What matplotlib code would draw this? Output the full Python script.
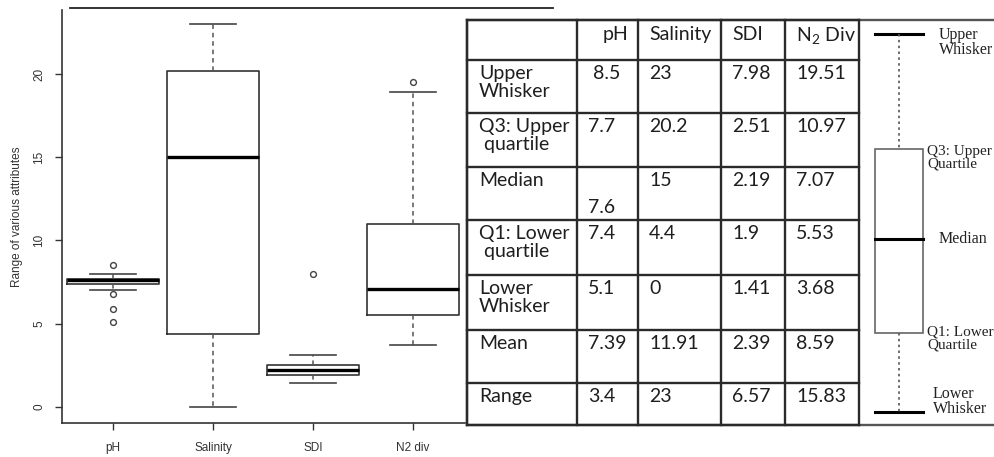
import matplotlib
matplotlib.use("Agg")
import matplotlib.pyplot as plt
from matplotlib.lines import Line2D
from matplotlib.patches import Rectangle

# box plot summary for each attribute
attrs = ["pH", "Salinity", "SDI", "N2 div"]
q1 = [7.4, 4.4, 1.9, 5.53]
medians = [7.6, 15, 2.19, 7.07]
q3 = [7.7, 20.2, 2.51, 10.97]
whisker_lo = [7.0, 0, 1.41, 3.68]
whisker_hi = [7.95, 23, 3.1, 18.9]
outliers = [[8.5, 6.8, 5.9, 5.1], [], [7.98], [19.51]]
means = [7.39, 11.91, 2.39, 8.59]

table_cols = ["pH", "Salinity", "SDI", r"N$_\mathregular{2}$ Div"]
row_names = ["Upper\nWhisker", "Q3: Upper\n quartile", "Median",
             "Q1: Lower\n quartile", "Lower\nWhisker", "Mean", "Range"]

# table rows: extremes include the outliers
upper = [max([h] + f) for h, f in zip(whisker_hi, outliers)]
lower = [min([l] + f) for l, f in zip(whisker_lo, outliers)]
ranges = [round(u - l, 2) for u, l in zip(upper, lower)]
rows = [upper, q3, medians, q1, lower, means, ranges]

W, H = 995, 457
fig = plt.figure(figsize=(W / 100, H / 100), dpi=100)
fig.patch.set_facecolor("white")

# ---- left: R-style box plot ----
ax = fig.add_axes([62 / W, (H - 423) / H, (465 - 62) / W, (423 - 10) / H])
stats = []
for i in range(len(attrs)):
    stats.append(dict(q1=q1[i], med=medians[i], q3=q3[i],
                      whislo=whisker_lo[i], whishi=whisker_hi[i],
                      fliers=outliers[i], label=attrs[i]))
ax.bxp(stats, positions=[1, 2, 3, 4], widths=0.92, capwidths=0.46,
       boxprops=dict(color="#333333", lw=1.2),
       medianprops=dict(color="black", lw=2.4, solid_capstyle="butt"),
       whiskerprops=dict(color="#555555", lw=1.1, ls=(0, (3, 2.5))),
       capprops=dict(color="#444444", lw=1.2),
       flierprops=dict(marker="o", mfc="none", mec="#444444", ms=4.2, mew=1))
ax.set_xlim(0.49, 4.52)
ax.set_ylim(-0.98, 23.85)
ax.set_yticks([0, 5, 10, 15, 20])
for s in ["top", "right"]:
    ax.spines[s].set_visible(False)
for s in ["left", "bottom"]:
    ax.spines[s].set_color("#333333")
    ax.spines[s].set_linewidth(1.2)
ax.tick_params(axis="both", length=5, width=1, color="#333333",
               labelsize=8.5, labelcolor="#333333")
ax.tick_params(axis="y", labelrotation=90, pad=7)
ax.tick_params(axis="x", pad=9)
for lab in ax.get_yticklabels():
    lab.set_va("center")
for lab in ax.get_xticklabels() + ax.get_yticklabels():
    lab.set_family("Liberation Sans")
ax.set_ylabel("Range of various attributes", fontsize=8.5, color="#333333",
              family="Liberation Sans")
ax.yaxis.set_label_coords(-39 / 403, 0.5)

# ---- overlay in pixel coordinates for the table and key ----
ov = fig.add_axes([0, 0, 1, 1], zorder=5)
ov.set_xlim(0, W)
ov.set_ylim(H, 0)
ov.axis("off")
ov.patch.set_alpha(0)

ov.add_line(Line2D([70, 553], [8, 8], color="#222222", lw=1.3))

col_x = [467, 577, 638, 721, 785, 859]
row_y = [20, 60, 113, 167, 220, 275, 330, 383, 425]
lc = "#2a2a2a"
ov.add_patch(Rectangle((col_x[0], row_y[0]), W + 10 - col_x[0],
                       row_y[-1] - row_y[0], fc="white", ec="#555555", lw=1.7))
for x in col_x:
    ov.add_line(Line2D([x, x], [row_y[0], row_y[-1]], color=lc, lw=1.7))
for y in row_y:
    ov.add_line(Line2D([col_x[0], col_x[-1]], [y, y], color=lc, lw=1.7))

tfont = dict(family="Lato", fontsize=14, color="#1e1e1e", va="top",
             linespacing=1.08)
for j, name in enumerate(table_cols):
    if j == 0:
        ov.text(col_x[2] - 10, row_y[0] + 6, name, ha="right", **tfont)
    else:
        ov.text(col_x[j + 1] + 11, row_y[0] + 6, name, ha="left", **tfont)

nudge = {(0, 0): (5, 0), (2, 0): (0, 27)}
for i, name in enumerate(row_names):
    top = row_y[i + 1]
    ov.text(col_x[0] + 12, top + 5, name, ha="left", **tfont)
    for j, v in enumerate(rows[i]):
        dx, dy = nudge.get((i, j), (0, 0))
        ov.text(col_x[j + 1] + 11 + dx, top + 5 + dy, f"{v:g}", ha="left",
                **tfont)

# ---- right: key to the box parts ----
bx0, bx1, bxc = 875, 923, 899
ov.add_line(Line2D([bx0, bx1], [34, 34], color="black", lw=2.2))
ov.add_line(Line2D([bx0, bx1], [412, 412], color="black", lw=2.2))
ov.add_line(Line2D([bxc, bxc], [34, 149], color="#555555", lw=1.2,
                   ls=(0, (1.5, 2))))
ov.add_line(Line2D([bxc, bxc], [333, 412], color="#555555", lw=1.2,
                   ls=(0, (1.5, 2))))
ov.add_patch(Rectangle((bx0, 149), bx1 - bx0, 333 - 149, fc="white",
                       ec="#666666", lw=1.2))
ov.add_line(Line2D([bx0, bx1], [239, 239], color="black", lw=2.2))

kfont = dict(family="Liberation Serif", fontsize=11.5, color="#222222",
             ha="left", linespacing=0.95)
ov.text(939, 27, "Upper\nWhisker", va="top", **kfont)
ov.text(927, 145, "Q3: Upper\nQuartile", va="top",
        **{**kfont, "fontsize": 11})
ov.text(939, 239, "Median", va="center", **kfont)
ov.text(927, 326, "Q1: Lower\nQuartile", va="top",
        **{**kfont, "fontsize": 11})
ov.text(933, 386, "Lower\nWhisker", va="top", **kfont)

fig.savefig("out.png", dpi=100)
